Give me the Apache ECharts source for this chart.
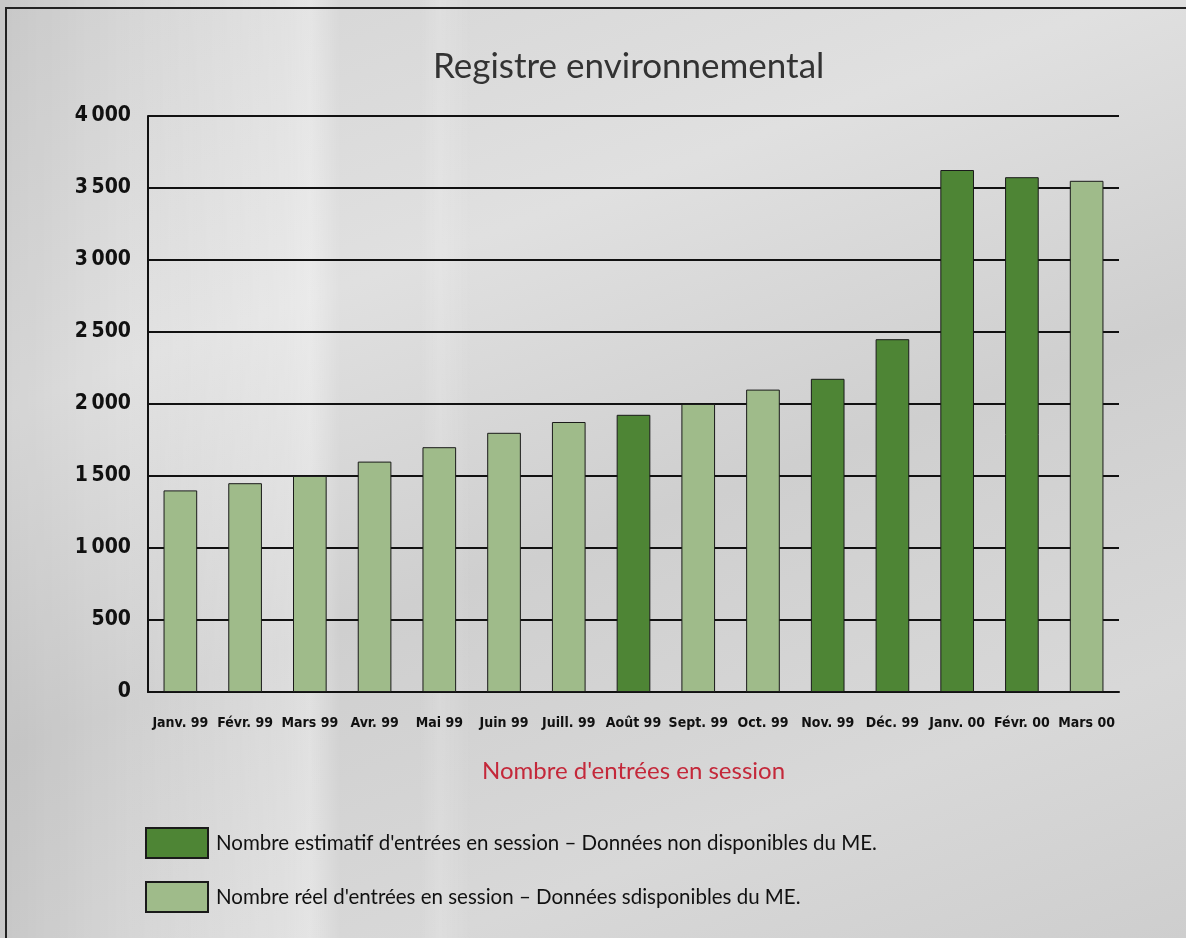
<!DOCTYPE html>
<html><head><meta charset="utf-8">
<script src="https://cdn.jsdelivr.net/npm/echarts@6/dist/echarts.min.js"></script>
<style>
html,body{margin:0;padding:0;width:1186px;height:938px;overflow:hidden;}
body{background:
  linear-gradient(90deg,rgba(0,0,0,0.06) 0px,rgba(0,0,0,0) 120px,rgba(255,255,255,0.25) 285px,rgba(255,255,255,0.35) 310px,rgba(255,255,255,0) 340px,rgba(0,0,0,0) 420px,rgba(255,255,255,0.15) 440px,rgba(0,0,0,0) 470px),
  linear-gradient(160deg,#d4d4d4 0%,#e0e0e0 30%,#cfcfcf 55%,#d8d8d8 80%,#cecece 100%);}
#frame{position:absolute;left:5px;top:7px;width:1200px;height:960px;border:2px solid #222;box-sizing:border-box;}
#c{position:absolute;left:0;top:0;width:1186px;height:938px;}
</style></head>
<body><div id="frame"></div><div id="c"></div>
<script>
const categories = ["Janv. 99","Févr. 99","Mars 99","Avr. 99","Mai 99","Juin 99","Juill. 99","Août 99","Sept. 99","Oct. 99","Nov. 99","Déc. 99","Janv. 00","Févr. 00","Mars 00"];
const estimated = [null,null,null,null,null,null,null,1925,null,null,2175,2450,3625,3575,null];
const actual = [1400,1450,1500,1600,1700,1800,1875,null,2000,2100,null,null,null,null,3550];
const yTicks = [0,500,1000,1500,2000,2500,3000,3500,4000];
const title = "Registre environnemental";
const xName = "Nombre d'entrées en session";
const legendNames = ["Nombre estimatif d'entrées en session – Données non disponibles du ME.","Nombre réel d'entrées en session – Données sdisponibles du ME."];

const condensed = "'Liberation Sans Narrow','DejaVu Sans Condensed','Roboto Condensed',sans-serif";
const chart = echarts.init(document.getElementById('c'), null, {renderer:'canvas'});
chart.setOption({
  backgroundColor:'transparent',
  animation:false,
  title:{text:title,left:433,top:49,padding:0,textStyle:{fontFamily:'Lato',fontSize:35,fontWeight:'normal',color:'#333'}},
  grid:{left:148,right:67,top:116,bottom:246},
  legend:{orient:'vertical',left:145,top:827,padding:0,itemWidth:62,itemHeight:30,itemGap:22,icon:'rect',
    textStyle:{fontFamily:'Lato',fontSize:20.5,color:'#111',padding:[0,0,0,3]},
    data:legendNames},
  xAxis:{type:'category',data:categories,
    name:xName,nameLocation:'middle',nameGap:67,
    nameTextStyle:{fontFamily:'Lato',fontSize:24,color:'#c4283a'},
    axisLine:{lineStyle:{color:'#111',width:2}},axisTick:{show:false},
    axisLabel:{interval:0,margin:24,fontFamily:condensed,fontWeight:'bold',fontSize:14,color:'#111'}},
  yAxis:{type:'value',min:yTicks[0],max:yTicks[yTicks.length-1],interval:500,
    axisLine:{show:true,lineStyle:{color:'#111',width:2}},axisTick:{show:false},
    splitLine:{lineStyle:{color:'#111',width:2}},
    axisLabel:{margin:17,fontFamily:condensed,fontWeight:'bold',fontSize:21,color:'#111',padding:[5,0,0,0],
      formatter:v=>v>=1000?String(v).replace(/\B(?=(\d{3})+(?!\d))/g,'\u2009'):String(v)}},
  series:[
    {name:legendNames[0],type:'bar',data:estimated,barWidth:'52%',barGap:'-100%',
     itemStyle:{color:'#4e8535',borderColor:'#1a1a1a',borderWidth:1}},
    {name:legendNames[1],type:'bar',data:actual,barWidth:'52%',
     itemStyle:{color:'#9fbb8a',borderColor:'#1a1a1a',borderWidth:1}}
  ]
});
</script></body></html>
